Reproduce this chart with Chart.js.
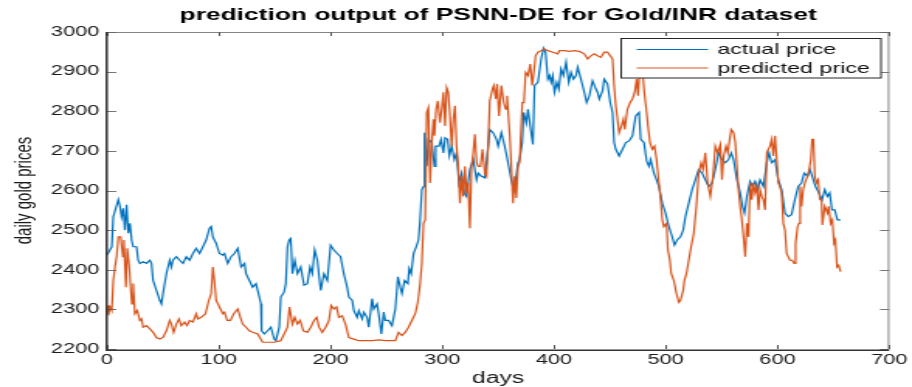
<!DOCTYPE html>
<html>
<head>
<meta charset="utf-8">
<title>prediction output of PSNN-DE for Gold/INR dataset</title>
<script src="https://cdn.jsdelivr.net/npm/chart.js@4.4.1/dist/chart.umd.min.js"></script>
<style>
  html, body { margin: 0; padding: 0; background: #fff; overflow: hidden; }
  /* the source figure was stretched sideways, so draw narrow and widen */
  #wrap { width: 588px; height: 387px; transform: scaleX(1.551); transform-origin: 0 0; }
</style>
</head>
<body>
<div id="wrap"><canvas id="chart" width="588" height="387"></canvas></div>
<script>
const xTickValues = [0, 100, 200, 300, 400, 500, 600, 700];
const yTickValues = [2200, 2300, 2400, 2500, 2600, 2700, 2800, 2900, 3000];

const actualDays = [
  0, 4.2, 5.6, 10.1, 11.6, 13, 14.5, 16, 17.5, 19, 20.5, 22, 23.4, 26.4, 27.9, 29.4, 32.3, 35.3, 38.3, 39.8,
  41.2, 44.2, 47.2, 48.7, 50.1, 53.1, 56.1, 57.6, 59, 62, 65, 68, 71, 73.9, 76.9, 79.8, 82.8, 85.8, 88.7, 91.7,
  93.2, 94.7, 97.6, 100.6, 103.6, 105.1, 108, 111, 114, 117, 120, 123, 124.4, 127.4, 130.3, 133.3, 136.3, 137.7, 138.3, 140.7,
  143.7, 146.6, 149.6, 151.1, 154.1, 155.5, 158.5, 160, 161.5, 163, 164.4, 165.9, 168, 170.4, 173.3, 176.3, 179.3, 181.7, 183.7, 185.8,
  188.2, 191.2, 194.1, 197.1, 200.1, 203, 206, 209, 211.9, 214.9, 216.4, 219.4, 220.9, 223.8, 225.3, 228.3, 229.8, 232.7, 234.2, 237.2,
  238.7, 241.6, 243.1, 245.5, 247.6, 249, 252, 255, 258, 260.3, 262.4, 263.9, 266.3, 269.2, 270.4, 272.2, 274.3, 277.2, 278.7, 280.2,
  281.7, 283.2, 284.1, 286.1, 287.6, 290.6, 293, 294.1, 297.1, 298.9, 301, 302.5, 304.8, 306.3, 308.4, 310.8, 312.8, 314.9, 317.3, 319.7,
  321.7, 324.7, 327.7, 330.7, 332.2, 335.1, 338.1, 341.1, 342.5, 345.5, 348.5, 350, 352.9, 355.9, 358.9, 361.8, 363.9, 365.7, 367.8, 369.2,
  371.6, 372.8, 375.2, 376.7, 378.7, 381.1, 382.6, 385.6, 388.5, 390.6, 392.4, 394.5, 396, 397.4, 398.9, 400.4, 402.5, 404.3, 406.3, 408.4,
  410.8, 413.2, 415.2, 417.3, 419.7, 421.2, 424.1, 427.1, 429.2, 431.6, 434.5, 437.5, 439, 440.5, 443.5, 444.9, 447.9, 450.3, 452.4, 453.8,
  455.3, 458.3, 461.3, 464.2, 467.2, 470.2, 473.1, 476.1, 477.6, 480.5, 482.9, 485, 486.5, 489.4, 491.8, 493.9, 496.9, 499.8, 502.8, 505.8,
  507.8, 510.2, 513.2, 515.6, 517.6, 520.6, 523.6, 526.5, 529.5, 532.5, 535.4, 538.4, 541.4, 544.3, 547.3, 550.3, 553.3, 556.2, 558.6, 560.7,
  563.7, 566.6, 568.7, 570.5, 572.6, 575.5, 577.6, 580, 582.3, 584.4, 587.4, 590.4, 592.4, 594.8, 597.8, 600.7, 603.7, 606.7, 609.6, 612.6,
  615.6, 618.5, 621.5, 623.9, 626.9, 629, 631, 634, 637, 639.9, 642.3, 644.7, 646.7, 648.8, 651.2, 653.6, 656.5
];
const actualPrice = [
  2437, 2458, 2534, 2577, 2560, 2534, 2555, 2500, 2564, 2492, 2517, 2475, 2458, 2458, 2424, 2416, 2420, 2416, 2424, 2416,
  2373, 2348, 2323, 2314, 2340, 2390, 2424, 2407, 2424, 2433, 2424, 2416, 2433, 2424, 2441, 2454, 2441, 2458, 2475, 2505,
  2509, 2483, 2467, 2441, 2437, 2441, 2416, 2433, 2441, 2454, 2407, 2416, 2390, 2373, 2356, 2365, 2331, 2314, 2246, 2238,
  2246, 2255, 2225, 2221, 2255, 2331, 2344, 2365, 2458, 2475, 2479, 2390, 2424, 2390, 2407, 2361, 2365, 2407, 2390, 2450,
  2424, 2348, 2390, 2373, 2462, 2450, 2441, 2433, 2390, 2356, 2331, 2323, 2297, 2280, 2297, 2276, 2293, 2280, 2255, 2327,
  2301, 2314, 2289, 2238, 2293, 2272, 2272, 2259, 2301, 2382, 2356, 2340, 2373, 2365, 2403, 2390, 2441, 2462, 2475, 2526,
  2602, 2610, 2746, 2661, 2729, 2721, 2661, 2712, 2712, 2729, 2695, 2733, 2729, 2687, 2712, 2678, 2695, 2619, 2644, 2594,
  2585, 2653, 2678, 2627, 2644, 2636, 2632, 2712, 2754, 2746, 2729, 2712, 2746, 2712, 2670, 2627, 2602, 2627, 2670, 2678,
  2721, 2797, 2770, 2805, 2763, 2716, 2865, 2873, 2932, 2959, 2949, 2881, 2890, 2873, 2890, 2848, 2873, 2856, 2907, 2890,
  2924, 2873, 2898, 2881, 2890, 2911, 2881, 2848, 2822, 2839, 2877, 2856, 2848, 2831, 2852, 2881, 2869, 2822, 2797, 2721,
  2704, 2687, 2704, 2721, 2725, 2738, 2788, 2797, 2729, 2721, 2674, 2661, 2678, 2644, 2627, 2610, 2568, 2543, 2509, 2483,
  2462, 2475, 2483, 2500, 2534, 2568, 2602, 2627, 2653, 2644, 2627, 2610, 2619, 2653, 2695, 2678, 2670, 2678, 2695, 2678,
  2627, 2594, 2560, 2543, 2585, 2623, 2610, 2623, 2602, 2627, 2610, 2670, 2695, 2670, 2678, 2627, 2602, 2543, 2534, 2539,
  2577, 2610, 2619, 2644, 2636, 2653, 2636, 2610, 2594, 2577, 2602, 2585, 2594, 2551, 2551, 2526, 2526
];

const predictedDays = [
  0, 1.2, 2.7, 4.2, 5.6, 7.1, 8.6, 10.1, 12.2, 14.2, 15.1, 16.9, 18.1, 19.9, 21.1, 22.3, 23.4, 24.9, 27, 29.4,
  30.9, 32.3, 35.3, 38.3, 41.2, 44.2, 47.2, 50.1, 53.1, 56.1, 57.6, 59.6, 62, 64.4, 66.5, 69.4, 71.5, 73.9, 76.9, 79.8,
  81.3, 84.3, 88.1, 91.1, 93.2, 94.7, 96.1, 97.6, 100.6, 103.6, 105.1, 107.5, 110.4, 113.4, 117, 119.3, 121.4, 124.4, 127.4, 130.3,
  134.8, 139.2, 143.7, 149.6, 155.5, 158.5, 161.5, 163.3, 165.9, 168, 170.4, 172.8, 175.7, 179.3, 182.3, 185.2, 187.6, 189.7, 192.6, 195.6,
  198.6, 200.6, 203, 205.4, 207.5, 210.4, 213.4, 216.4, 220.9, 225.3, 231.2, 237.2, 243.1, 249, 258, 260.9, 263.9, 266.8, 269.8, 272.8,
  275.8, 278.1, 280.2, 281.7, 283.2, 284.7, 286.1, 287.6, 289.1, 290.6, 292.1, 293, 294.5, 296, 298, 299.5, 301, 302.5, 303.9, 305.4,
  306.9, 308.4, 309.9, 311.4, 312.8, 314.3, 315.8, 317.3, 318.8, 320.3, 321.7, 323.2, 324.7, 326.2, 327.7, 329.2, 330.7, 332.2, 334.2, 336,
  338.1, 339.6, 341.1, 342.5, 344.9, 346.1, 347.9, 349.1, 350.8, 352.9, 355, 356.8, 358, 360.4, 361.8, 363.3, 364.8, 366.3, 367.8, 369.2,
  371.6, 373.1, 374.6, 376.7, 378.7, 380.5, 382.6, 383.5, 385.6, 388.5, 391.5, 394.5, 398.9, 403.4, 404.9, 409.3, 413.8, 418.2, 422.7, 427.1,
  430.1, 433, 436, 439, 442, 444.9, 447.9, 450.3, 452.4, 453.8, 455.3, 456.8, 458.3, 460.4, 462.1, 463.3, 465.7, 468.1, 470.2, 472.2,
  474, 475.2, 477, 479.1, 480.5, 482.9, 484.1, 485.9, 488, 490, 491.8, 493.9, 495.4, 496.9, 498.3, 500.7, 501.9, 503.7, 504.9, 507.2,
  509.6, 511.7, 513.2, 515.6, 516.7, 518.5, 520.6, 522.7, 525.1, 527.4, 529.5, 531.6, 533.4, 535.4, 537.5, 539.9, 542.3, 544.3, 546.4, 548.8,
  550.3, 551.8, 553.9, 555.6, 556.8, 558.6, 560.7, 562.2, 563.7, 565.1, 566.6, 568.1, 569.6, 571.1, 572.6, 574.1, 575.5, 577, 578.5, 580,
  581.5, 583, 584.4, 585.9, 587.4, 588.9, 590.4, 591.8, 593.3, 594.8, 596.3, 597.8, 599.3, 600.7, 602.2, 603.7, 605.2, 606.7, 608.2, 609.6,
  611.1, 613.2, 615, 616.2, 618, 619.2, 620.3, 621.5, 623, 624.5, 626.9, 628.4, 629.8, 631, 632.2, 633.4, 634.9, 636.4, 637.9, 639.4,
  640.2, 642.3, 644.7, 645.8, 647.6, 649.1, 650.6, 651.8, 653.3, 654.7, 656.5
];
const predictedPrice = [
  2310, 2285, 2306, 2297, 2373, 2407, 2433, 2483, 2483, 2433, 2475, 2356, 2454, 2407, 2356, 2314, 2365, 2289, 2297, 2272,
  2276, 2255, 2259, 2251, 2242, 2229, 2225, 2229, 2246, 2272, 2263, 2242, 2263, 2276, 2259, 2268, 2259, 2272, 2268, 2289,
  2276, 2280, 2289, 2323, 2340, 2407, 2373, 2323, 2306, 2289, 2293, 2272, 2272, 2289, 2301, 2280, 2263, 2255, 2246, 2242,
  2238, 2217, 2217, 2217, 2221, 2238, 2255, 2306, 2263, 2280, 2263, 2272, 2246, 2242, 2255, 2272, 2280, 2255, 2242, 2255,
  2272, 2310, 2301, 2306, 2280, 2284, 2263, 2229, 2225, 2221, 2221, 2221, 2223, 2221, 2221, 2242, 2234, 2242, 2255, 2272,
  2289, 2318, 2365, 2416, 2517, 2526, 2797, 2809, 2619, 2721, 2780, 2738, 2805, 2826, 2771, 2805, 2848, 2763, 2860, 2848,
  2788, 2712, 2780, 2814, 2712, 2661, 2568, 2636, 2585, 2661, 2594, 2619, 2505, 2661, 2695, 2742, 2670, 2661, 2661, 2704,
  2644, 2636, 2716, 2826, 2856, 2865, 2831, 2869, 2788, 2865, 2822, 2805, 2839, 2738, 2661, 2568, 2636, 2581, 2661, 2670,
  2822, 2822, 2898, 2890, 2919, 2865, 2915, 2940, 2949, 2953, 2957, 2953, 2949, 2945, 2953, 2953, 2951, 2953, 2951, 2945,
  2932, 2940, 2945, 2940, 2936, 2949, 2949, 2940, 2932, 2865, 2814, 2780, 2746, 2763, 2780, 2754, 2805, 2822, 2831, 2848,
  2881, 2839, 2915, 2907, 2856, 2797, 2763, 2721, 2704, 2712, 2678, 2619, 2577, 2526, 2509, 2517, 2450, 2424, 2390, 2373,
  2340, 2318, 2323, 2348, 2373, 2390, 2424, 2458, 2492, 2560, 2644, 2670, 2653, 2695, 2619, 2585, 2636, 2712, 2695, 2716,
  2627, 2687, 2712, 2695, 2721, 2754, 2746, 2721, 2661, 2602, 2560, 2526, 2483, 2433, 2517, 2483, 2619, 2577, 2619, 2594,
  2610, 2551, 2602, 2585, 2577, 2551, 2695, 2704, 2712, 2729, 2687, 2738, 2678, 2619, 2610, 2594, 2517, 2500, 2441, 2433,
  2424, 2424, 2416, 2467, 2509, 2517, 2610, 2560, 2602, 2619, 2636, 2653, 2678, 2729, 2729, 2636, 2619, 2627, 2577, 2577,
  2513, 2560, 2543, 2560, 2517, 2526, 2467, 2475, 2407, 2411, 2395
];

const blue = '#0072BD';
const orange = '#D95319';

Chart.defaults.font.family = "'Liberation Sans', Arial, Helvetica, sans-serif";
Chart.defaults.color = '#1a1a1a';

const toPoints = (xs, ys) => xs.map((d, i) => ({ x: d, y: ys[i] }));
const plain = v => String(v);

// box round the axes with short inward ticks on every side
const axesBox = {
  id: 'axesBox',
  afterDatasetsDraw(chart) {
    const { ctx, chartArea: a, scales: { x, y } } = chart;
    ctx.save();
    ctx.strokeStyle = '#555';
    ctx.lineWidth = 1;
    x.ticks.forEach(t => {
      const px = Math.round(x.getPixelForValue(t.value)) + 0.5;
      ctx.beginPath();
      ctx.moveTo(px, a.bottom); ctx.lineTo(px, a.bottom - 4);
      ctx.moveTo(px, a.top); ctx.lineTo(px, a.top + 4);
      ctx.stroke();
    });
    ctx.lineWidth = 0.8;
    y.ticks.forEach(t => {
      const py = Math.round(y.getPixelForValue(t.value)) + 0.5;
      ctx.beginPath();
      ctx.moveTo(a.left, py); ctx.lineTo(a.left + 6, py);
      ctx.moveTo(a.right, py); ctx.lineTo(a.right - 6, py);
      ctx.stroke();
    });
    // thin top and right edges
    ctx.strokeStyle = '#666';
    ctx.lineWidth = 0.8;
    ctx.beginPath();
    ctx.moveTo(a.left, a.top + 0.5); ctx.lineTo(a.right, a.top + 0.5);
    ctx.moveTo(a.right - 0.4, a.top); ctx.lineTo(a.right - 0.4, a.bottom);
    ctx.stroke();
    // heavier left and bottom axes
    ctx.strokeStyle = '#333';
    ctx.lineWidth = 1.5;
    ctx.beginPath();
    ctx.moveTo(a.left - 0.2, a.top); ctx.lineTo(a.left - 0.2, a.bottom + 1.2);
    ctx.lineTo(a.right, a.bottom + 1.2);
    ctx.stroke();
    ctx.restore();
  }
};

// MATLAB style boxed legend in the top right corner
const boxLegend = {
  id: 'boxLegend',
  afterDraw(chart) {
    const ctx = chart.ctx;
    const left = 400.5, top = 38.5, right = 568, bottom = 78;
    ctx.save();
    ctx.fillStyle = '#fff';
    ctx.fillRect(left, top, right - left, bottom - top);
    ctx.strokeStyle = '#262626';
    ctx.lineWidth = 1;
    ctx.strokeRect(left, top, right - left, bottom - top);
    ctx.font = "15px 'Liberation Sans', Arial, sans-serif";
    ctx.textBaseline = 'middle';
    ctx.fillStyle = '#111';
    chart.data.datasets.forEach((ds, i) => {
      const yy = 49.5 + i * 18.5;
      ctx.strokeStyle = ds.borderColor;
      ctx.lineWidth = 1;
      ctx.beginPath();
      ctx.moveTo(410.5, yy); ctx.lineTo(456.5, yy);
      ctx.stroke();
      ctx.fillText(ds.label, 462.5, yy + 0.5);
    });
    ctx.restore();
  }
};

new Chart(document.getElementById('chart'), {
  type: 'line',
  data: {
    datasets: [
      {
        label: 'actual price',
        data: toPoints(actualDays, actualPrice),
        borderColor: blue,
        borderWidth: 1.2,
        pointRadius: 0,
        order: 2
      },
      {
        label: 'predicted price',
        data: toPoints(predictedDays, predictedPrice),
        borderColor: orange,
        borderWidth: 1.2,
        pointRadius: 0,
        order: 1
      }
    ]
  },
  options: {
    responsive: false,
    animation: false,
    layout: { padding: { left: 0, right: 12, top: 0, bottom: 0 } },
    plugins: {
      legend: { display: false },
      tooltip: { enabled: false },
      title: {
        display: true,
        text: 'prediction output of PSNN-DE for Gold/INR dataset',
        fullSize: false,
        color: '#000',
        font: { size: 17, weight: 'bold', lineHeight: 1.2 },
        padding: { top: 4.8, bottom: 6.8 }
      }
    },
    scales: {
      x: {
        type: 'linear',
        min: 0,
        max: 700,
        afterBuildTicks: s => { s.ticks = xTickValues.map(v => ({ value: v })); },
        afterFit: s => { s.height = 38; },
        ticks: { padding: 3, font: { size: 14 }, maxRotation: 0, callback: plain },
        grid: { display: false, drawTicks: false },
        border: { display: false },
        title: {
          display: true,
          text: 'days',
          font: { size: 16, lineHeight: 1 },
          padding: { top: 0, bottom: 0.5 }
        }
      },
      y: {
        min: 2200,
        max: 3000,
        afterBuildTicks: s => { s.ticks = yTickValues.map(v => ({ value: v })); },
        afterFit: s => { s.width = 69; },
        ticks: { padding: 5, font: { size: 14 }, callback: plain },
        grid: { display: false, drawTicks: false },
        border: { display: false },
        title: {
          display: true,
          text: 'daily gold prices',
          font: { size: 15, lineHeight: 1.2 },
          padding: { top: 6.5, bottom: 0 }
        }
      }
    }
  },
  plugins: [axesBox, boxLegend]
});
</script>
</body>
</html>
